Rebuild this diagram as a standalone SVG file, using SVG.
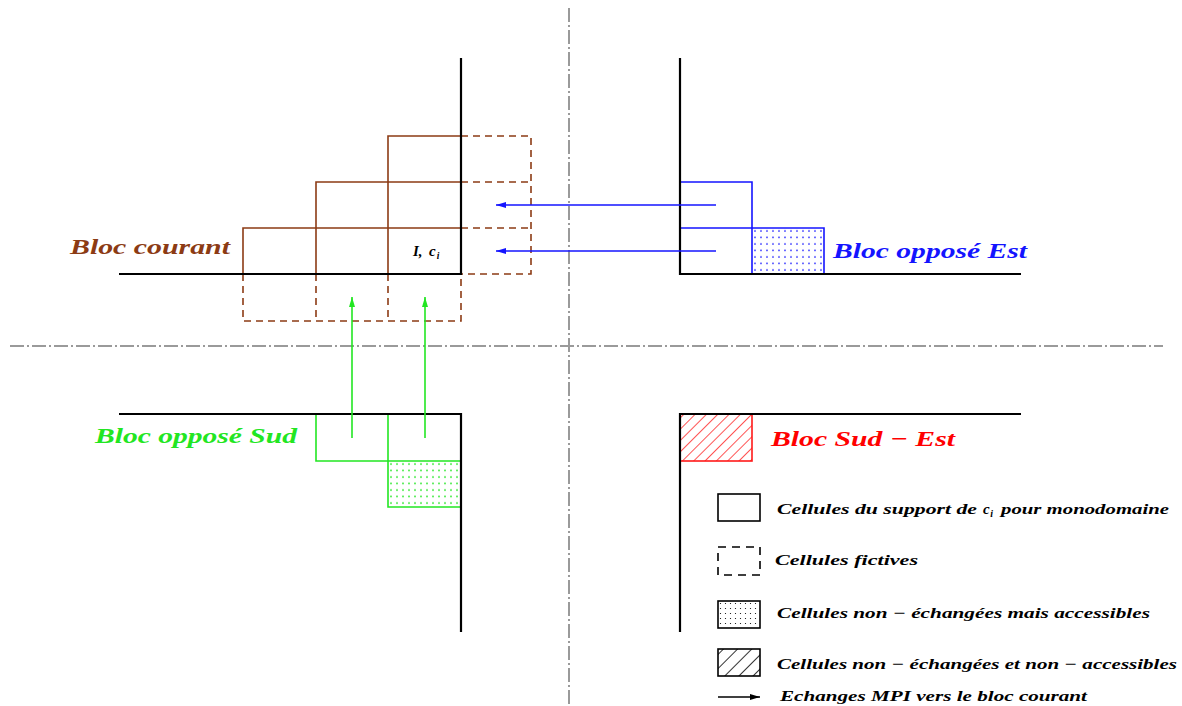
<svg xmlns="http://www.w3.org/2000/svg" width="1182" height="706" viewBox="0 0 1182 706">
<style>
.axis{stroke:#000;stroke-width:2.2;fill:none}
.grid{stroke:#9a9a9a;stroke-width:2;fill:none;stroke-dasharray:14 3 2 3}
.br{stroke:#8c3b14;stroke-width:1.6;fill:none}
.brd{stroke:#8c3b14;stroke-width:1.6;fill:none;stroke-dasharray:7 5}
.bl{stroke:#1414ff;stroke-width:1.6;fill:none}
.gr{stroke:#22e622;stroke-width:1.6;fill:none}
.lbl{font-family:"Liberation Serif",serif;font-style:italic;font-weight:bold;font-size:22px}
.leg{font-family:"Liberation Serif",serif;font-style:italic;font-weight:bold;font-size:15px;fill:#000}
</style>
<defs>
<marker id="ahB" viewBox="0 0 10 6" refX="10" refY="3" markerWidth="10" markerHeight="6" markerUnits="userSpaceOnUse" orient="auto"><path d="M0,0 L10,3 L0,6 z" fill="#1414ff"/></marker>
<marker id="ahG" viewBox="0 0 10 6" refX="10" refY="3" markerWidth="10" markerHeight="6" markerUnits="userSpaceOnUse" orient="auto"><path d="M0,0 L10,3 L0,6 z" fill="#22e622"/></marker>
<marker id="ahK" viewBox="0 0 10 6" refX="10" refY="3" markerWidth="12" markerHeight="6" markerUnits="userSpaceOnUse" orient="auto"><path d="M0,0 L10,3 L0,6 z" fill="#000"/></marker>
<pattern id="dotB" width="6" height="6.5" patternUnits="userSpaceOnUse" x="752" y="228"><circle cx="3" cy="3" r="0.8" fill="#1414ff"/></pattern>
<pattern id="dotG" width="6" height="6.5" patternUnits="userSpaceOnUse" x="388" y="461"><circle cx="3" cy="3" r="0.9" fill="#22e622"/></pattern>
<pattern id="dotK" width="5" height="5" patternUnits="userSpaceOnUse" x="718" y="601"><circle cx="2.5" cy="2.5" r="0.6" fill="#000"/></pattern>
<pattern id="hatR" width="8" height="8" patternUnits="userSpaceOnUse" patternTransform="rotate(45)"><line x1="0" y1="0" x2="0" y2="8" stroke="#ff1a1a" stroke-width="1.5"/></pattern>
<pattern id="hatK" width="10" height="10" patternUnits="userSpaceOnUse" patternTransform="rotate(45)"><line x1="0" y1="0" x2="0" y2="10" stroke="#000" stroke-width="1.6"/></pattern>
</defs>

<g id="grid">
<line class="grid" x1="569" y1="8" x2="569" y2="706"/>
<line class="grid" x1="10" y1="346" x2="1163" y2="346"/>
</g>

<g id="bloc-courant">
<path class="brd" d="M461,136 H531 V274 H461 M461,182 H531 M461,228 H531"/>
<path class="brd" d="M243,274 V321 H461 V274 M316,274 V321 M388,274 V321"/>
<path class="br" d="M388,274 V136 H461 M316,274 V182 H461 M243,274 V228 H461"/>
<path class="axis" d="M461,58 V274 H119"/>
<text class="lbl" x="70" y="254" fill="#8c3b14" textLength="160" lengthAdjust="spacingAndGlyphs">Bloc courant</text>
<text x="413" y="256" font-family="'Liberation Serif',serif" font-style="italic" font-weight="bold" font-size="15" fill="#000">I,<tspan x="429">c</tspan><tspan font-size="9.5" dy="3" dx="1">i</tspan></text>
</g>

<g id="bloc-est">
<rect x="752" y="228" width="72" height="46" fill="url(#dotB)"/>
<path class="bl" d="M680,182 H752 V274 M680,228 H824 V274"/>
<path class="axis" d="M680,58 V274 H1021"/>
<text class="lbl" x="833" y="258" fill="#1414ff" textLength="194" lengthAdjust="spacingAndGlyphs">Bloc opposé Est</text>
</g>

<g id="bloc-sud">
<rect x="388" y="461" width="73" height="46" fill="url(#dotG)"/>
<path class="gr" d="M316,414 V461 H461 M388,414 V507 H461"/>
<path class="axis" d="M119,414 H461 V632"/>
<text class="lbl" x="95" y="443" fill="#22e622" textLength="202" lengthAdjust="spacingAndGlyphs">Bloc opposé Sud</text>
</g>

<g id="bloc-sud-est">
<rect x="680" y="414" width="72" height="47" fill="url(#hatR)" stroke="#ff1a1a" stroke-width="1.6"/>
<path class="axis" d="M1021,414 H680 V632"/>
<text class="lbl" x="771" y="446" fill="#ff0000" textLength="184" lengthAdjust="spacingAndGlyphs">Bloc Sud − Est</text>
</g>

<g id="connectors">
<line class="bl" x1="716" y1="205" x2="496" y2="205" marker-end="url(#ahB)"/>
<line class="bl" x1="716" y1="251" x2="496" y2="251" marker-end="url(#ahB)"/>
<line class="gr" x1="352" y1="438" x2="352" y2="297" marker-end="url(#ahG)"/>
<line class="gr" x1="425" y1="438" x2="425" y2="297" marker-end="url(#ahG)"/>
</g>

<g id="legend">
<rect x="718" y="494" width="42" height="27" fill="none" stroke="#000" stroke-width="1.6"/>
<text class="leg" x="777" y="514" textLength="200" lengthAdjust="spacingAndGlyphs">Cellules du support de</text>
<text class="leg" x="983" y="514">c<tspan font-size="10" dy="3" dx="0.5">i</tspan></text>
<text class="leg" x="1001" y="514" textLength="168" lengthAdjust="spacingAndGlyphs">pour monodomaine</text>

<rect x="718" y="547" width="42" height="28" fill="none" stroke="#000" stroke-width="1.6" stroke-dasharray="8 6"/>
<text class="leg" x="775" y="565" textLength="143" lengthAdjust="spacingAndGlyphs">Cellules fictives</text>

<rect x="718" y="601" width="42" height="27" fill="url(#dotK)" stroke="#000" stroke-width="1.6"/>
<text class="leg" x="777" y="618" textLength="373" lengthAdjust="spacingAndGlyphs">Cellules non − échangées mais accessibles</text>

<rect x="718" y="649" width="42" height="27" fill="url(#hatK)" stroke="#000" stroke-width="1.6"/>
<text class="leg" x="777" y="669" textLength="400" lengthAdjust="spacingAndGlyphs">Cellules non − échangées et non − accessibles</text>

<line x1="718" y1="697" x2="760" y2="697" stroke="#000" stroke-width="1.6" marker-end="url(#ahK)"/>
<text class="leg" x="780" y="701" textLength="307" lengthAdjust="spacingAndGlyphs">Echanges MPI vers le bloc courant</text>
</g>
</svg>
